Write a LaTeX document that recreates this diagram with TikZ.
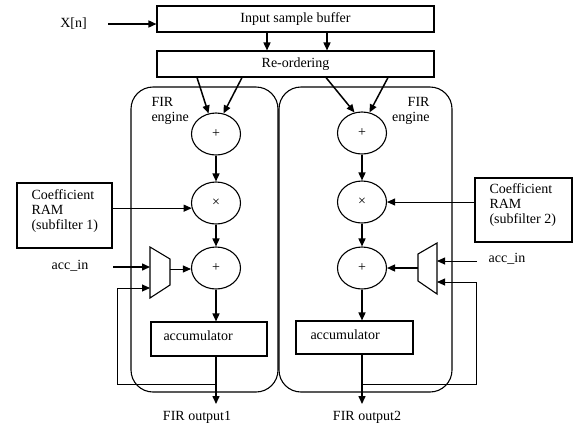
\documentclass[tikz,border=0pt]{standalone}
\usepackage{fontspec}
\setmainfont{Liberation Serif}
\usetikzlibrary{shapes.geometric,arrows.meta}
\begin{document}
\begin{tikzpicture}[x=1pt,y=-1pt, line width=1pt,
  every node/.style={font=\fontsize{14}{15}\selectfont},
  box/.style={draw, rectangle, inner sep=0pt, line width=1.1pt},
  engine/.style={draw, rectangle, rounded corners=22pt, inner sep=0pt, line width=1.1pt},
  op/.style={draw, ellipse, minimum width=49pt, minimum height=42pt, inner sep=0pt, line width=1.1pt, font=\fontsize{14}{15}\selectfont},
  arr/.style={-{Triangle[length=8pt,width=7pt]}, line width=1.5pt},
  tarr/.style={-{Triangle[length=8pt,width=7pt]}, line width=0.9pt},
  txt/.style={inner sep=0pt},
  muxs/.style={line width=1.1pt}]
\useasboundingbox (0,0) rectangle (578,424);

% top boxes
\node[box, minimum width=277pt, minimum height=26pt] (isb) at (295.5,19) {Input sample buffer};
\node[box, minimum width=277pt, minimum height=26pt] (reo) at (295.5,64) {Re-ordering};

% FIR engines
\node[engine, minimum width=147pt, minimum height=305pt] (eng1) at (204.5,239.5) {};
\node[engine, minimum width=173pt, minimum height=305pt] (eng2) at (365.5,239.5) {};
\node[txt, align=left, anchor=west] (el1) at (151,111) {FIR\\engine};
\node[txt, align=right, anchor=east] (el2) at (430,111) {FIR\\engine};

% operators
\node[op] (a1) at (216,134) {+};
\node[op] (m1) at (216,203) {×};
\node[op] (s1) at (216,268) {+};
\node[op] (a2) at (362,133) {+};
\node[op] (m2) at (362,202) {×};
\node[op] (s2) at (362,268) {+};

% accumulators
\node[box, minimum width=116pt, minimum height=34pt] (acc1) at (209,339) {};
\node[txt, anchor=west] (acct1) at (163,336) {accumulator};
\node[box, minimum width=117pt, minimum height=33pt] (acc2) at (354.5,337.5) {};
\node[txt, anchor=west] (acct2) at (310,335) {accumulator};

% coefficient RAMs
\node[box, minimum width=95pt, minimum height=65pt] (cr1) at (64.5,215.5) {};
\node[txt, align=left, anchor=west] (crt1) at (31,211) {Coefficient\\RAM\\(subfilter 1)};
\node[box, minimum width=97pt, minimum height=64pt] (cr2) at (523.5,210) {};
\node[txt, align=left, anchor=west] (crt2) at (489,205) {Coefficient\\RAM\\(subfilter 2)};

% labels
\node[txt] (xn) at (73.5,24) {X[n]};
\node[txt] (ai1) at (70,266) {acc\_in};
\node[txt] (ai2) at (507,259) {acc\_in};
\node[txt] (o1) at (197,417) {FIR output1};
\node[txt] (o2) at (367,417) {FIR output2};

% multiplexers
\coordinate (m1a) at (150,247);
\coordinate (m1b) at (170,259);
\coordinate (m1c) at (170,285);
\coordinate (m1d) at (150,298);
\draw[muxs] (m1a) -- (m1b) -- (m1c) -- (m1d) -- cycle;
\coordinate (mux1in1) at (150,267);
\coordinate (mux1in2) at (150,288);
\coordinate (mux1out) at (170,269);
\coordinate (m2a) at (437,243);
\coordinate (m2b) at (418,254);
\coordinate (m2c) at (418,281);
\coordinate (m2d) at (437,294);
\draw[muxs] (m2a) -- (m2b) -- (m2c) -- (m2d) -- cycle;
\coordinate (mux2in1) at (437,261);
\coordinate (mux2in2) at (437,282);
\coordinate (mux2out) at (418,268);

% connectors: input
\coordinate (xin) at (108,24);
\draw[arr] (xin) -- (xin -| isb.west);
\draw[arr] ([xshift=-28.5pt]isb.south) -- ([xshift=-28.5pt]reo.north);
\draw[arr] ([xshift=31.5pt]isb.south) -- ([xshift=31.5pt]reo.north);
\draw[arr] ([xshift=-98.5pt]reo.south) -- (a1.110);
\draw[arr] ([xshift=-53.5pt]reo.south) -- (a1.70);
\draw[arr] ([xshift=30.5pt]reo.south) -- (a2.110);
\draw[arr] ([xshift=92.5pt]reo.south) -- (a2.70);

% engine 1 flow
\draw[arr] (a1.south) -- (m1.north);
\draw[arr] (m1.south) -- (s1.north);
\draw[arr] (s1.south) -- (s1.south |- acc1.north);
\coordinate (out1) at (216,404);
\draw[arr] (s1.south |- acc1.south) -- (out1);
\draw[tarr] (cr1.east |- m1.192) -- (m1.192);
\coordinate (ain1) at (113,267);
\draw[arr] (ain1) -- (mux1in1);
\draw[tarr] (mux1out) -- (s1.west |- mux1out);
\coordinate (fb1) at (216,384);
\coordinate (fb1c) at (117,384);
\draw[tarr] (fb1) -- (fb1c) -- (fb1c |- mux1in2) -- (mux1in2);

% engine 2 flow
\draw[arr] (a2.south) -- (m2.north);
\draw[arr] (m2.south) -- (s2.north);
\draw[arr] (s2.south) -- (s2.south |- acc2.north);
\coordinate (out2) at (362,404);
\draw[arr] (s2.south |- acc2.south) -- (out2);
\draw[tarr] (cr2.west |- m2.east) -- (m2.east);
\coordinate (ain2) at (477,261);
\draw[tarr] (ain2) -- (mux2in1);
\draw[arr] (mux2out) -- (s2.east);
\coordinate (fb2) at (362,384);
\coordinate (fb2c) at (476,384);
\draw[tarr] (fb2) -- (fb2c) -- (fb2c |- mux2in2) -- (mux2in2);
\end{tikzpicture}
\end{document}
